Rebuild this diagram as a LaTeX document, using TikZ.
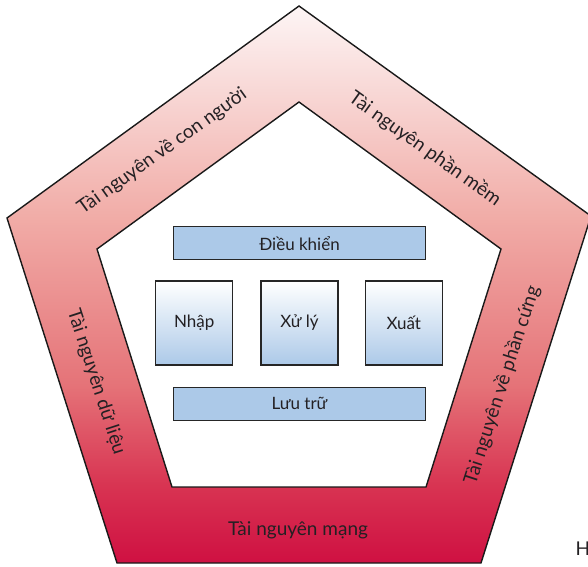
\documentclass[tikz,border=0pt]{standalone}
\usepackage{fontspec}
\setmainfont{Lato}
\usetikzlibrary{positioning}

\definecolor{ringtop}{RGB}{253,245,245}
\definecolor{ringhigh}{RGB}{241,172,167}
\definecolor{ringmid}{RGB}{229,115,120}
\definecolor{ringlow}{RGB}{216,52,82}
\definecolor{ringbot}{RGB}{207,16,66}
\definecolor{boxblue}{RGB}{172,201,232}
\definecolor{inktext}{RGB}{35,32,35}

% bottom-up stops, 25bp = bottom of path, 75bp = top of path
\pgfdeclareverticalshading{ringfade}{100bp}{%
    color(0bp)=(ringbot); color(25bp)=(ringbot); color(32bp)=(ringlow);
    color(41bp)=(ringmid); color(56bp)=(ringhigh); color(75bp)=(ringtop);
    color(100bp)=(ringtop)}

\tikzset{
    barbox/.style={draw=black!85, line width=1.3pt, fill=boxblue,
        minimum width=252pt, minimum height=33pt, inner sep=0pt,
        text=inktext, font=\fontsize{17}{19}\selectfont},
    stagebox/.style={draw=black!85, line width=1.3pt, top color=white, bottom color=boxblue,
        minimum width=77pt, minimum height=84pt, inner sep=0pt,
        text=inktext, font=\fontsize{17}{19}\selectfont},
    ringlabel/.style={text=inktext, inner sep=0pt, font=\fontsize{19}{21}\selectfont},
}

\begin{document}
\begin{tikzpicture}[x=1pt,y=-1pt]
    \useasboundingbox (0,0) rectangle (588,566);
    % ring of resources
    \path[even odd rule, draw=black!90, line width=1.4pt, shading=ringfade]
        (299,6) -- (591,216) -- (481,563) -- (117,563) -- (7,218) -- cycle
        (299,102) -- (501,249) -- (426,487) -- (172,487) -- (97,249) -- cycle;
    \node[ringlabel, rotate=35.5] (connguoi) at (162,151) {Tài nguyên về con người};
    \node[ringlabel, rotate=-35.5] (phanmem) at (425,149) {Tài nguyên phần mềm};
    \node[ringlabel, rotate=72] (phancung) at (502,385) {Tài nguyên về phần cứng};
    \node[ringlabel, rotate=-72] (dulieu) at (96,382) {Tài nguyên dữ liệu};
    \node[ringlabel] (mang) at (298,530) {Tài nguyên mạng};
    % inner units
    \node[stagebox] (xuly) at (299.5,323) {Xử lý};
    \node[stagebox, left=27pt of xuly] (nhap) {Nhập};
    \node[stagebox, right=26pt of xuly] (xuat) {Xuất};
    \node[barbox, above=20pt of xuly] (dieukhien) {Điều khiển};
    \node[barbox, below=21pt of xuly] (luutru) {Lưu trữ};
    \node[text=inktext, font=\fontsize{19}{21}\selectfont, anchor=west] (cutoff) at (572,549) {H};
\end{tikzpicture}
\end{document}
